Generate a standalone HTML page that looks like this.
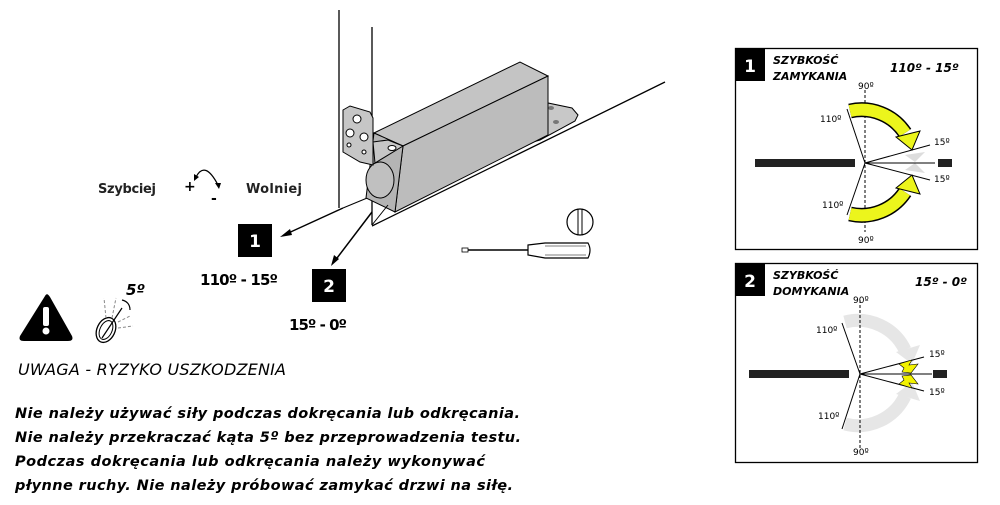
<!DOCTYPE html>
<html><head><meta charset="utf-8"><style>
html,body{margin:0;padding:0;background:#fff;}
svg{display:block;}
text{font-family:"DejaVu Sans","Liberation Sans",sans-serif;}
</style></head><body>
<svg width="1000" height="505" viewBox="0 0 1000 505" xmlns="http://www.w3.org/2000/svg">
<!-- door / floor lines -->
<line x1="339" y1="10" x2="339" y2="208" stroke="#000" stroke-width="1.3"/>
<line x1="372" y1="27" x2="372" y2="225" stroke="#000" stroke-width="1.3"/>
<line x1="372" y1="226" x2="665" y2="82" stroke="#000" stroke-width="1.3"/>
<line x1="343" y1="208" x2="372" y2="196" stroke="#000" stroke-width="1"/>
<!-- back plate -->
<polygon points="533,142 548,103 572,108 578,115 575,121 540,140" fill="#c8c8c8" stroke="#000" stroke-width="1"/>
<ellipse cx="551" cy="108" rx="3" ry="2" fill="#777"/>
<ellipse cx="556" cy="122" rx="3" ry="2" fill="#777"/>
<!-- box -->
<polygon points="374,133 520,62 548,76 403,146" fill="#c4c4c4" stroke="#000" stroke-width="1"/>
<polygon points="403,146 548,76 548,135 395,212" fill="#bcbcbc" stroke="#000" stroke-width="1"/>
<polygon points="374,133 403,146 395,212 366,198" fill="#b4b4b4" stroke="#000" stroke-width="1"/>
<ellipse cx="380" cy="180" rx="14" ry="18" fill="#c0c0c0" stroke="#000" stroke-width="1"/>
<!-- bracket -->
<polygon points="343,110 350,106 370,112 373,118 373,165 360,162 343,152" fill="#c6c6c6" stroke="#000" stroke-width="1"/>
<polygon points="373,142 388,140 403,146 375,163" fill="#c6c6c6" stroke="#000" stroke-width="1"/>
<circle cx="357" cy="119" r="4" fill="#fff" stroke="#000"/>
<circle cx="350" cy="133" r="4" fill="#fff" stroke="#000"/>
<circle cx="364" cy="137" r="4" fill="#fff" stroke="#000"/>
<circle cx="349" cy="145" r="2" fill="#fff" stroke="#000"/>
<circle cx="364" cy="152" r="2" fill="#fff" stroke="#000"/>
<ellipse cx="392" cy="148" rx="4" ry="2.5" fill="#fff" stroke="#000"/>
<!-- pointer arrows -->
<line x1="343" y1="208" x2="284" y2="235" stroke="#000" stroke-width="1.5"/>
<polygon points="280,237 290,229 292,235" fill="#000"/>
<line x1="372" y1="212" x2="334" y2="262" stroke="#000" stroke-width="1.5"/>
<polygon points="331,266 334,255 339,259" fill="#000"/>
<line x1="372" y1="225" x2="388" y2="205" stroke="#000" stroke-width="1"/>
<!-- number boxes -->
<rect x="238" y="224" width="34" height="33" fill="#000"/>
<text x="255" y="247" fill="#fff" font-size="17" font-weight="bold" text-anchor="middle">1</text>
<rect x="312" y="269" width="34" height="33" fill="#000"/>
<text x="329" y="292" fill="#fff" font-size="17" font-weight="bold" text-anchor="middle">2</text>
<text x="200" y="285" font-size="15" font-weight="bold" textLength="78">110º - 15º</text>
<text x="289" y="330" font-size="15" font-weight="bold" textLength="58">15º - 0º</text>
<text x="98" y="193" font-size="13" font-weight="bold" fill="#222" textLength="58">Szybciej</text>
<text x="246" y="193" font-size="13" font-weight="bold" fill="#222" textLength="56">Wolniej</text>
<text x="184" y="191" font-size="14" font-weight="bold">+</text>
<text x="211" y="203" font-size="14" font-weight="bold">-</text>
<path d="M196,177 Q205,160 218,185" fill="none" stroke="#000" stroke-width="1.2"/>
<polygon points="194,181 194,174 199,177" fill="#000"/>
<polygon points="219,189 215,183 221,183" fill="#000"/>
<!-- screwdriver -->
<line x1="462" y1="250" x2="530" y2="250" stroke="#000" stroke-width="1.5"/>
<rect x="462" y="248" width="6" height="4" fill="#fff" stroke="#000" stroke-width="0.8"/>
<path d="M528,245 L545,243 L588,243 Q592,250 588,258 L545,258 L528,255 Z" fill="#fff" stroke="#000" stroke-width="1.2"/>
<line x1="545" y1="246" x2="586" y2="246" stroke="#000" stroke-width="0.6"/>
<line x1="545" y1="255" x2="586" y2="255" stroke="#000" stroke-width="0.6"/>
<circle cx="580" cy="222" r="13" fill="#fff" stroke="#000" stroke-width="1.2"/>
<line x1="578" y1="209" x2="578" y2="235" stroke="#000"/>
<line x1="582" y1="209" x2="582" y2="235" stroke="#000"/>
<!-- warning -->
<path d="M45,296 L20,336 Q18,341 24,341 L68,341 Q74,341 72,336 L50,297 Q47,292 45,296 Z" fill="#000"/>
<rect x="43" y="307" width="6" height="19" rx="2" fill="#fff"/>
<circle cx="46" cy="331" r="3.5" fill="#fff"/>
<!-- screw tilt icon -->
<ellipse cx="106" cy="330" rx="9" ry="13" fill="#fff" stroke="#000" stroke-width="1.3" transform="rotate(25 106 330)"/>
<ellipse cx="106" cy="330" rx="6" ry="10" fill="none" stroke="#000" stroke-width="1" transform="rotate(25 106 330)"/>
<line x1="102" y1="338" x2="122" y2="308" stroke="#000" stroke-width="1.2"/>
<line x1="106" y1="318" x2="104" y2="298" stroke="#888" stroke-dasharray="3,2"/>
<line x1="112" y1="318" x2="116" y2="298" stroke="#888" stroke-dasharray="3,2"/>
<line x1="118" y1="322" x2="130" y2="316" stroke="#888" stroke-dasharray="3,2"/>
<line x1="118" y1="328" x2="133" y2="326" stroke="#888" stroke-dasharray="3,2"/>
<path d="M122,300 Q130,302 130,310" fill="none" stroke="#000" stroke-width="1.2"/>
<text x="126" y="295" font-size="15" font-weight="bold" font-style="italic">5º</text>
<text x="18" y="375" font-size="16" font-style="italic" textLength="268">UWAGA - RYZYKO USZKODZENIA</text>
<g font-size="14.5" font-weight="bold" font-style="italic">
<text x="15" y="418" textLength="505">Nie należy używać siły podczas dokręcania lub odkręcania.</text>
<text x="15" y="442" textLength="506">Nie należy przekraczać kąta 5º bez przeprowadzenia testu.</text>
<text x="15" y="466" textLength="470">Podczas dokręcania lub odkręcania należy wykonywać</text>
<text x="15" y="490" textLength="498">płynne ruchy. Nie należy próbować zamykać drzwi na siłę.</text>
</g>
<!-- panel 1 -->
<rect x="735.5" y="48.5" width="242" height="201" fill="#fff" stroke="#000" stroke-width="1.3"/>
<rect x="735" y="48" width="30" height="33" fill="#000"/>
<text x="750" y="72" fill="#fff" font-size="17" font-weight="bold" text-anchor="middle">1</text>
<text x="773" y="64" font-size="11" font-weight="bold" font-style="italic">SZYBKOŚĆ</text>
<text x="773" y="80" font-size="11" font-weight="bold" font-style="italic">ZAMYKANIA</text>
<text x="890" y="72" font-size="12" font-weight="bold" font-style="italic">110º - 15º</text>
<rect x="755" y="159" width="100" height="8" fill="#222"/>
<rect x="938" y="159" width="14" height="8" fill="#222"/>
<line x1="865" y1="90" x2="865" y2="232" stroke="#000" stroke-dasharray="3,2"/>
<polygon points="905,155 925,152 915,162" fill="#ddd"/>
<polygon points="905,170 925,173 915,163" fill="#ddd"/>
<line x1="865" y1="163" x2="935" y2="163" stroke="#000"/>
<line x1="865" y1="163" x2="847" y2="109" stroke="#000"/>
<line x1="865" y1="163" x2="847" y2="215" stroke="#000"/>
<line x1="865" y1="163" x2="930" y2="145" stroke="#000"/>
<line x1="865" y1="163" x2="930" y2="180" stroke="#000"/>
<path d="M850,111 A52,52 0 0 1 905,133" fill="none" stroke="#000" stroke-width="15"/>
<path d="M850,111 A52,52 0 0 1 905,133" fill="none" stroke="#ecf51c" stroke-width="12"/>
<polygon points="896,137 920,131 912,150" fill="#ecf51c" stroke="#000"/>
<path d="M850,214 A52,52 0 0 0 905,192" fill="none" stroke="#000" stroke-width="15"/>
<path d="M850,214 A52,52 0 0 0 905,192" fill="none" stroke="#ecf51c" stroke-width="12"/>
<polygon points="896,188 920,194 912,175" fill="#ecf51c" stroke="#000"/>
<g font-size="9">
<text x="858" y="89">90º</text><text x="858" y="243">90º</text>
<text x="820" y="122">110º</text><text x="822" y="208">110º</text>
<text x="934" y="145">15º</text><text x="934" y="182">15º</text>
</g>
<!-- panel 2 -->
<rect x="735.5" y="263.5" width="242" height="199" fill="#fff" stroke="#000" stroke-width="1.3"/>
<rect x="735" y="263" width="30" height="33" fill="#000"/>
<text x="750" y="287" fill="#fff" font-size="17" font-weight="bold" text-anchor="middle">2</text>
<text x="773" y="279" font-size="11" font-weight="bold" font-style="italic">SZYBKOŚĆ</text>
<text x="773" y="295" font-size="11" font-weight="bold" font-style="italic">DOMYKANIA</text>
<text x="915" y="286" font-size="12" font-weight="bold" font-style="italic">15º - 0º</text>
<path d="M845,322 A52,52 0 0 1 905,350" fill="none" stroke="#e6e6e6" stroke-width="13"/>
<polygon points="896,352 920,345 912,364" fill="#e6e6e6"/>
<path d="M845,424 A52,52 0 0 0 905,396" fill="none" stroke="#e6e6e6" stroke-width="13"/>
<polygon points="896,394 920,401 912,382" fill="#e6e6e6"/>
<rect x="749" y="370" width="100" height="8" fill="#222"/>
<rect x="933" y="370" width="14" height="8" fill="#222"/>
<line x1="860" y1="300" x2="860" y2="448" stroke="#000" stroke-dasharray="3,2"/>
<line x1="860" y1="374" x2="932" y2="374" stroke="#000"/>
<line x1="860" y1="374" x2="842" y2="323" stroke="#000"/>
<line x1="860" y1="374" x2="842" y2="429" stroke="#000"/>
<line x1="860" y1="374" x2="924" y2="357" stroke="#000"/>
<line x1="860" y1="374" x2="924" y2="391" stroke="#000"/>
<polygon points="899,364 912,360 909,365 918,364 911,373 902,372 904,368" fill="#f2f200" stroke="#000" stroke-width="0.6"/>
<polygon points="899,384 912,388 909,383 918,384 911,375 902,376 904,380" fill="#f2f200" stroke="#000" stroke-width="0.6"/>
<g font-size="9">
<text x="853" y="303">90º</text><text x="853" y="455">90º</text>
<text x="816" y="333">110º</text><text x="818" y="419">110º</text>
<text x="929" y="357">15º</text><text x="929" y="395">15º</text>
</g>
</svg>
</body></html>
